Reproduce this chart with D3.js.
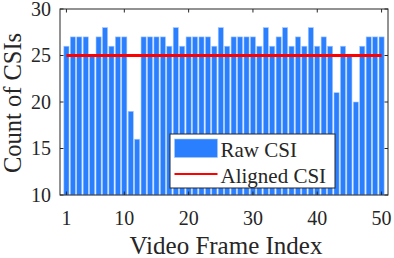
<!DOCTYPE html>
<html lang="en">
<head>
<meta charset="UTF-8">
<script src="https://d3js.org/d3.v7.min.js"></script>
<style>
  body { margin: 0; background: #fff; }
</style>
</head>
<body>
<div id="canvas"></div>
<script>
// frame index 1..50 and number of raw CSI packets per frame
const frames = d3.range(1, 51)
const rawCounts = [26,27,27,27,25,27,28,26,27,27,19,16,27,27,27,27,26,28,26,27,
                   27,27,27,26,28,26,27,27,27,27,26,28,26,27,28,26,27,26,28,26,
                   27,26,21,26,25,20,26,27,27,27]
const alignedCount = 25
const xTicks = [1, 10, 20, 30, 40, 50]
const yTicks = [10, 15, 20, 25, 30]
const legendLabels = ["Raw CSI", "Aligned CSI"]

const W = 394, H = 258
const pL = 60, pR = 388, pT = 9, pB = 195

const svg = d3.select("#canvas").append("svg").attr("width", W).attr("height", H)
  .attr("font-family", "'Liberation Serif', 'DejaVu Serif', serif")

const x = d3.scaleLinear().domain([0, 51]).range([pL, pR])
const y = d3.scaleLinear().domain([10, 30]).range([pB, pT])
const bw = (x(1) - x(0)) * 0.8

// bars
svg.append("g").selectAll("rect")
   .data(frames)
   .enter().append("rect")
   .attr("x", d => x(d) - bw / 2)
   .attr("y", (d, i) => y(rawCounts[i]))
   .attr("width", bw)
   .attr("height", (d, i) => y(10) - y(rawCounts[i]))
   .attr("fill", "#2a7fff")
   .attr("stroke", "#a8c9ff")
   .attr("stroke-width", 0.6)

// aligned line
svg.append("line")
   .attr("x1", x(frames[0])).attr("x2", x(frames[frames.length - 1]))
   .attr("y1", y(alignedCount)).attr("y2", y(alignedCount))
   .attr("stroke", "#ff0000").attr("stroke-width", 3)

// axes (box with inward ticks on all sides)
const ax = svg.append("g")
const axCol = "#262626"
ax.append("rect").attr("x", pL).attr("y", pT).attr("width", pR - pL).attr("height", pB - pT)
  .attr("fill", "none").attr("stroke", axCol).attr("stroke-width", 1)
xTicks.forEach(t => {
  ax.append("line").attr("x1", x(t)).attr("x2", x(t)).attr("y1", pB).attr("y2", pB - 3.5).attr("stroke", axCol)
  ax.append("line").attr("x1", x(t)).attr("x2", x(t)).attr("y1", pT).attr("y2", pT + 3.5).attr("stroke", axCol)
  ax.append("text").attr("x", x(t)).attr("y", 225).attr("text-anchor", "middle").attr("font-size", 20)
    .attr("fill", axCol).text(t)
})
yTicks.forEach(t => {
  ax.append("line").attr("x1", pL).attr("x2", pL + 3.5).attr("y1", y(t)).attr("y2", y(t)).attr("stroke", axCol)
  ax.append("line").attr("x1", pR).attr("x2", pR - 3.5).attr("y1", y(t)).attr("y2", y(t)).attr("stroke", axCol)
  ax.append("text").attr("x", 51).attr("y", y(t)).attr("dy", "0.34em").attr("text-anchor", "end").attr("font-size", 20)
    .attr("fill", axCol).text(t)
})
svg.append("text").attr("x", (pL + pR) / 2 + 2).attr("y", 254).attr("text-anchor", "middle")
   .attr("font-size", 25).attr("fill", axCol).text("Video Frame Index")
svg.append("text").attr("transform", "translate(21," + ((pT + pB) / 2 + 1) + ") rotate(-90)")
   .attr("text-anchor", "middle").attr("font-size", 24.5).attr("fill", axCol).text("Count of CSIs")

// legend
const lg = svg.append("g").attr("transform", "translate(170,134)")
lg.append("rect").attr("width", 165).attr("height", 54).attr("fill", "#fff").attr("stroke", axCol).attr("stroke-width", 1)
lg.append("rect").attr("x", 4.5).attr("y", 5).attr("width", 43).attr("height", 18.5)
  .attr("fill", "#2a7fff").attr("stroke", "#a8c9ff").attr("stroke-width", 0.6)
lg.append("line").attr("x1", 4.5).attr("x2", 47.5).attr("y1", 40).attr("y2", 40).attr("stroke", "#ff0000").attr("stroke-width", 2)
legendLabels.forEach((l, i) => {
  lg.append("text").attr("x", 50.5).attr("y", 23 + i * 26).attr("font-size", 21).attr("fill", axCol).text(l)
})
</script>
</body>
</html>
